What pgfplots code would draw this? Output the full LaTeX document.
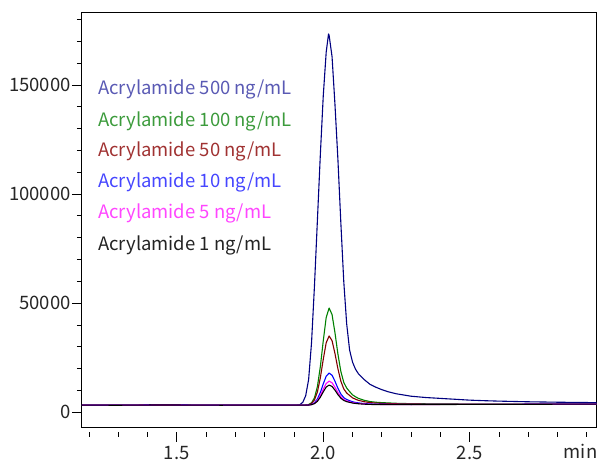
\documentclass[border=0pt]{standalone}
\usepackage{fontspec}
\setmainfont{Noto Sans CJK JP}
\usepackage{pgfplots}
\pgfplotsset{compat=1.18}

\definecolor{c500}{RGB}{0,0,128}
\definecolor{c100}{RGB}{0,128,0}
\definecolor{c50}{RGB}{128,0,0}
\definecolor{c10}{RGB}{0,0,255}
\definecolor{c5}{RGB}{255,0,255}
\definecolor{t500}{RGB}{90,90,180}
\definecolor{t100}{RGB}{60,155,60}
\definecolor{t50}{RGB}{160,50,50}
\definecolor{t10}{RGB}{70,70,255}
\definecolor{t5}{RGB}{255,70,255}
\definecolor{t1}{RGB}{35,35,35}

\begin{document}
\begin{tikzpicture}
\path[use as bounding box] (-82pt,-34pt) rectangle (516.5pt,428pt);
\begin{axis}[
  scale only axis, width=515pt, height=415pt,
  xmin=1.176, xmax=2.933, ymin=-7000, ymax=183000,
  axis line style={line width=1pt},
  xtick={1.5,2.0,2.5},
  minor xtick={1.2,1.3,1.4,1.6,1.7,1.8,1.9,2.1,2.2,2.3,2.4,2.6,2.7,2.8,2.9},
  ytick={0,50000,100000,150000},
  minor ytick={10000,20000,30000,40000,60000,70000,80000,90000,110000,120000,130000,140000,160000,170000,180000},
  xtick pos=bottom, ytick pos=left,
  tick align=outside,
  major tick length=10pt, minor tick length=5pt,
  tick style={black, line width=0.9pt},
  xtick style={yshift=-4pt},
  scaled y ticks=false,
  xticklabel style={/pgf/number format/fixed, /pgf/number format/fixed zerofill, /pgf/number format/precision=1},
  yticklabel style={/pgf/number format/fixed, /pgf/number format/set thousands separator={}},
  /pgf/number format/assume math mode=true,
  tick label style={font=\fontsize{18.5}{22}\selectfont, text=black!85},
  yticklabel style={inner xsep=1pt},
  xticklabel style={inner ysep=1pt, yshift=-7pt},
  every axis plot/.append style={line width=1.1pt, line join=round},
]
% 500 ng/mL
\addplot[c500] table {
t v
1.176 3300
1.25 3250
1.30 3280
1.35 3320
1.40 3350
1.45 3400
1.50 3380
1.55 3330
1.60 3300
1.65 3280
1.70 3300
1.75 3320
1.80 3300
1.85 3280
1.90 3300
1.91 3320
1.92 3500
1.93 4600
1.94 7600
1.95 15000
1.96 32000
1.97 58000
1.98 88000
1.99 118000
2.00 145000
2.01 165000
2.018 173400
2.02 172800
2.03 163000
2.04 141000
2.05 116000
2.06 87000
2.07 60000
2.08 40500
2.09 28500
2.10 23000
2.11 19800
2.12 17700
2.14 15000
2.16 12800
2.18 11500
2.20 10400
2.22 9500
2.25 8500
2.30 7400
2.35 6800
2.40 6400
2.45 6000
2.50 5600
2.55 5350
2.60 5150
2.65 5000
2.70 4850
2.75 4750
2.80 4650
2.85 4580
2.90 4500
2.933 4480
};
% 100 ng/mL
\addplot[c100] table {
t v
1.176 3280
1.25 3300
1.30 3250
1.35 3300
1.40 3330
1.45 3380
1.50 3400
1.55 3350
1.60 3290
1.65 3270
1.70 3310
1.75 3300
1.80 3280
1.85 3300
1.90 3300
1.93 3313
1.94 3362
1.95 3580
1.96 4381
1.97 6669
1.98 11800
1.99 20878
2.00 32759
2.01 43439
2.02 47800
2.03 44819
2.04 36497
2.05 26752
2.06 18786
2.07 13758
2.08 11132
2.09 9530
2.10 8017
2.11 7149
2.12 6415
2.14 5525
2.16 4947
2.18 4635
2.20 4463
2.25 4157
2.30 3984
2.40 3862
2.50 3778
2.60 3739
2.70 3700
2.80 3750
2.933 3800
};
% 50 ng/mL
\addplot[c50] table {
t v
1.176 3320
1.25 3280
1.30 3300
1.35 3340
1.40 3370
1.45 3360
1.50 3350
1.55 3320
1.60 3310
1.65 3290
1.70 3290
1.75 3310
1.80 3320
1.85 3300
1.90 3300
1.93 3310
1.94 3344
1.95 3500
1.96 4070
1.97 5700
1.98 9355
1.99 15822
2.00 24285
2.01 31893
2.02 35000
2.03 32876
2.04 26948
2.05 20006
2.06 14332
2.07 10750
2.08 8879
2.09 7738
2.10 6660
2.11 6042
2.12 5519
2.14 4885
2.16 4473
2.18 4251
2.20 4143
2.25 3939
2.30 3830
2.40 3772
2.50 3727
2.60 3713
2.70 3700
2.80 3750
2.933 3800
};
% 10 ng/mL
\addplot[c10] table {
t v
1.176 3290
1.25 3270
1.30 3310
1.35 3330
1.40 3360
1.45 3420
1.50 3390
1.55 3340
1.60 3280
1.65 3260
1.70 3300
1.75 3330
1.80 3290
1.85 3270
1.90 3300
1.93 3304
1.94 3321
1.95 3393
1.96 3657
1.97 4413
1.98 6108
1.99 9107
2.00 13031
2.01 16559
2.02 18000
2.03 17015
2.04 14266
2.05 11047
2.06 8416
2.07 6755
2.08 5887
2.09 5358
2.10 4858
2.11 4572
2.12 4329
2.14 4035
2.16 3844
2.18 3741
2.20 3718
2.25 3650
2.30 3626
2.40 3653
2.50 3659
2.60 3679
2.70 3700
2.80 3750
2.933 3800
};
% 5 ng/mL
\addplot[c5] table {
t v
1.176 3310
1.25 3300
1.30 3290
1.35 3310
1.40 3340
1.45 3390
1.50 3370
1.55 3310
1.60 3300
1.65 3300
1.70 3320
1.75 3290
1.80 3300
1.85 3310
1.90 3300
1.93 3303
1.94 3315
1.95 3369
1.96 3567
1.97 4133
1.98 5401
1.99 7645
2.00 10582
2.01 13222
2.02 14300
2.03 13563
2.04 11506
2.05 9097
2.06 7128
2.07 5885
2.08 5236
2.09 4840
2.10 4466
2.11 4252
2.12 4070
2.14 3850
2.16 3707
2.18 3630
2.20 3625
2.25 3587
2.30 3582
2.40 3627
2.50 3644
2.60 3672
2.70 3700
2.80 3750
2.933 3800
};
% 1 ng/mL
\addplot[black] table {
t v
1.176 3300
1.25 3290
1.30 3270
1.35 3320
1.40 3350
1.45 3370
1.50 3360
1.55 3330
1.60 3310
1.65 3280
1.70 3300
1.75 3310
1.80 3300
1.85 3300
1.90 3300
1.93 3303
1.94 3313
1.95 3358
1.96 3524
1.97 3996
1.98 5057
1.99 6934
2.00 9390
2.01 11598
2.02 12500
2.03 11884
2.04 10163
2.05 8148
2.06 6502
2.07 5462
2.08 4919
2.09 4588
2.10 4275
2.11 4096
2.12 3944
2.14 3760
2.16 3640
2.18 3576
2.20 3580
2.25 3556
2.30 3560
2.40 3614
2.50 3637
2.60 3668
2.70 3700
2.80 3750
2.933 3800
};
\end{axis}
\begin{scope}[every node/.style={anchor=base west, inner sep=0pt, font=\fontsize{18.5}{22}\selectfont}]
\node[text=t500] at (16pt,333pt) {Acrylamide 500 ng/mL};
\node[text=t100] at (16pt,301pt) {Acrylamide 100 ng/mL};
\node[text=t50]  at (16pt,271pt) {Acrylamide 50 ng/mL};
\node[text=t10]  at (16pt,240pt) {Acrylamide 10 ng/mL};
\node[text=t5]   at (16pt,209pt) {Acrylamide 5 ng/mL};
\node[text=t1]   at (16pt,177pt) {Acrylamide 1 ng/mL};
\node[anchor=base east, text=black!85] at (516pt,-31pt) {min};
\end{scope}
\end{tikzpicture}
\end{document}
